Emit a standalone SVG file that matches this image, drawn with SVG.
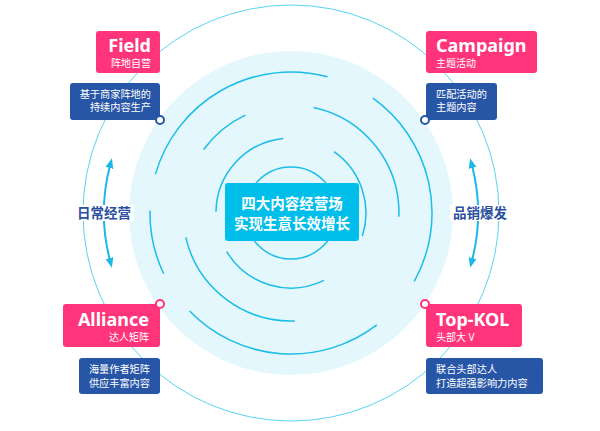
<svg xmlns="http://www.w3.org/2000/svg" width="600" height="431" viewBox="0 0 600 431">
<style>
.ring{fill:none;stroke:#1CBDE7;stroke-width:1.5}
.outer{fill:none;stroke:#5AD4F3;stroke-width:1}
.pink{fill:#FF347B}
.blue{fill:#2856A7}
.t{font-family:"Noto Sans","Noto Sans CJK SC",sans-serif;fill:#fff}
.title{font-size:18px;font-weight:700}
.sub{font-size:10px}
.desc{font-size:10.2px}
.side{font-family:"Noto Sans CJK SC",sans-serif;font-size:13.5px;font-weight:700;fill:#2A4F9F;text-anchor:middle}
.arrow{fill:none;stroke:#1CB9E8;stroke-width:2}
.dotb{fill:#fff;stroke:#2856A7;stroke-width:2}
.dotp{fill:#fff;stroke:#FF347B;stroke-width:2}
</style>
<defs>
<marker id="ah" markerUnits="userSpaceOnUse" markerWidth="12" markerHeight="10" refX="2" refY="4" orient="auto-start-reverse">
<path d="M0,0 L10,4 L0,8 z" fill="#1CB9E8"/>
</marker>
</defs>
<rect width="600" height="431" fill="#fff"/>
<g id="background">
<circle cx="291" cy="213" r="208" class="outer"/>
<circle cx="291" cy="213" r="162" fill="#E3F7FC"/>
<circle cx="291" cy="213" r="46" class="ring"/>
<path class="ring" d="M334.0,151.6 A75 75 0 0 1 362.3,236.2"/>
<path class="ring" d="M323.9,280.4 A75 75 0 0 1 226.7,251.6"/>
<path class="ring" d="M216.0,211.7 A75 75 0 0 1 283.2,138.4"/>
<path class="ring" d="M203.6,149.5 A108 108 0 0 1 245.4,115.1"/>
<path class="ring" d="M313.5,107.4 A108 108 0 0 1 398.9,216.8"/>
<path class="ring" d="M294.8,320.9 A108 108 0 0 1 185.8,237.3"/>
<path class="ring" d="M155.5,174.1 A141 141 0 0 1 327.5,76.8"/>
<path class="ring" d="M372.9,98.2 A141 141 0 0 1 414.3,281.4"/>
<path class="ring" d="M376.8,324.9 A141 141 0 0 1 189.6,311.0"/>
<path class="ring" d="M163.7,273.7 A141 141 0 0 1 150.0,210.5"/>
</g>
<g id="connectors">
<path class="arrow" d="M109.9,260 A187 187 0 0 1 109.9,166" marker-start="url(#ah)" marker-end="url(#ah)"/>
<path class="arrow" d="M472.1,166 A187 187 0 0 1 472.1,260" marker-start="url(#ah)" marker-end="url(#ah)"/>
</g>
<g id="label-daily">
<rect x="73" y="205" width="61" height="16" fill="#fff"/>
<text class="side" x="104" y="218">日常经营</text>
</g>
<g id="label-burst">
<rect x="450" y="205" width="60" height="16" fill="#fff"/>
<text class="side" x="480" y="218">品销爆发</text>
</g>
<g id="center">
<rect x="225" y="183" width="134" height="58" rx="3" fill="#00BEEA"/>
<text class="t" x="292" y="209" font-size="14.5" font-weight="700" text-anchor="middle" font-family="Noto Sans CJK SC,sans-serif">四大内容经营场</text>
<text class="t" x="292" y="229" font-size="14.5" font-weight="700" text-anchor="middle" font-family="Noto Sans CJK SC,sans-serif">实现生意长效增长</text>
</g>
<g id="field">
<rect class="pink" x="96" y="31" width="64" height="42" rx="3"/>
<text class="t title" x="151" y="51.5" text-anchor="end">Field</text>
<text class="t sub" x="151" y="66.5" text-anchor="end">阵地自营</text>
</g>
<g id="field-desc">
<rect class="blue" x="70" y="83" width="90" height="37" rx="3"/>
<text class="t desc" x="151" y="98" text-anchor="end">基于商家阵地的</text>
<text class="t desc" x="151" y="111" text-anchor="end">持续内容生产</text>
<circle class="dotb" cx="160" cy="120" r="4"/>
</g>
<g id="campaign">
<rect class="pink" x="426" y="31" width="111" height="42" rx="3"/>
<text class="t title" x="436" y="51.5">Campaign</text>
<text class="t sub" x="436" y="66.5">主题活动</text>
</g>
<g id="campaign-desc">
<rect class="blue" x="426" y="83" width="71" height="37" rx="3"/>
<text class="t desc" x="436" y="98">匹配活动的</text>
<text class="t desc" x="436" y="111">主题内容</text>
<circle class="dotb" cx="425" cy="120" r="4"/>
</g>
<g id="alliance">
<rect class="pink" x="63" y="304" width="97" height="43" rx="3"/>
<text class="t title" x="149" y="325.5" text-anchor="end">Alliance</text>
<text class="t sub" x="149" y="340.5" text-anchor="end">达人矩阵</text>
<circle class="dotp" cx="160" cy="304" r="4"/>
</g>
<g id="alliance-desc">
<rect class="blue" x="79" y="358" width="81" height="36" rx="3"/>
<text class="t desc" x="150" y="373" text-anchor="end">海量作者矩阵</text>
<text class="t desc" x="150" y="387" text-anchor="end">供应丰富内容</text>
</g>
<g id="topkol">
<rect class="pink" x="426" y="304" width="96" height="43" rx="3"/>
<text class="t title" x="436" y="325.5">Top-KOL</text>
<text class="t sub" x="436" y="340.5">头部大 V</text>
<circle class="dotp" cx="425" cy="304" r="4"/>
</g>
<g id="topkol-desc">
<rect class="blue" x="426" y="358" width="117" height="36" rx="3"/>
<text class="t desc" x="436" y="373">联合头部达人</text>
<text class="t desc" x="436" y="387">打造超强影响力内容</text>
</g>
</svg>
